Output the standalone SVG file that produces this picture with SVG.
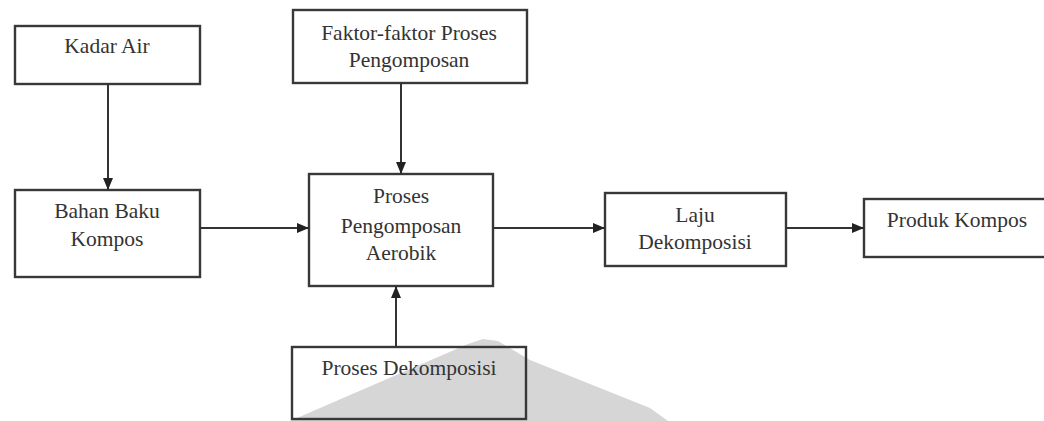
<svg xmlns="http://www.w3.org/2000/svg" width="1044" height="421" viewBox="0 0 1044 421">
<style>
.box{fill:none;stroke:#383838;stroke-width:2.4}
.t{font-family:'Liberation Serif','Times New Roman','DejaVu Serif',serif;font-size:21.5px;fill:#333;text-anchor:middle}
.c{stroke:#333;stroke-width:2;fill:none}
</style>
<defs>
<marker id="ah" viewBox="0 0 12 10" refX="12" refY="5" markerWidth="12" markerHeight="10" markerUnits="userSpaceOnUse" orient="auto">
<path d="M0,0 L12,5 L0,10 Z" fill="#222"/>
</marker>
</defs>
<rect width="1044" height="421" fill="#fff"/>
<path d="M290,421 L468,344 L483,339 L498,341 L530,360 L650,408 L668,421 Z" fill="#d6d6d6"/>
<g id="kadar-air"><rect class="box" x="15" y="26" width="185" height="58"/><text class="t" font-family="Liberation Serif, serif" x="107" y="53">Kadar Air</text></g>
<g id="faktor"><rect class="box" x="293" y="10" width="234" height="73"/><text class="t" font-family="Liberation Serif, serif" x="409" y="40">Faktor-faktor Proses</text><text class="t" font-family="Liberation Serif, serif" x="409" y="67">Pengomposan</text></g>
<g id="bahan-baku"><rect class="box" x="15" y="190" width="185" height="87"/><text class="t" font-family="Liberation Serif, serif" x="107" y="218">Bahan Baku</text><text class="t" font-family="Liberation Serif, serif" x="107" y="246">Kompos</text></g>
<g id="proses-aerobik"><rect class="box" x="309" y="174" width="184" height="112"/><text class="t" font-family="Liberation Serif, serif" x="401" y="203">Proses</text><text class="t" font-family="Liberation Serif, serif" x="401" y="233">Pengomposan</text><text class="t" font-family="Liberation Serif, serif" x="401" y="260">Aerobik</text></g>
<g id="laju"><rect class="box" x="605" y="193" width="181" height="73"/><text class="t" font-family="Liberation Serif, serif" x="695" y="222">Laju</text><text class="t" font-family="Liberation Serif, serif" x="695" y="249">Dekomposisi</text></g>
<g id="produk"><rect class="box" x="864" y="199" width="184" height="58"/><text class="t" font-family="Liberation Serif, serif" x="957" y="227">Produk Kompos</text></g>
<g id="dekomposisi"><rect class="box" x="292" y="347" width="234" height="72"/><text class="t" font-family="Liberation Serif, serif" x="409" y="375">Proses Dekomposisi</text></g>
<g id="connectors">
<line class="c" x1="108" y1="84" x2="108" y2="190" marker-end="url(#ah)"/>
<line class="c" x1="401" y1="83" x2="401" y2="174" marker-end="url(#ah)"/>
<line class="c" x1="200" y1="228" x2="309" y2="228" marker-end="url(#ah)"/>
<line class="c" x1="493" y1="228" x2="605" y2="228" marker-end="url(#ah)"/>
<line class="c" x1="786" y1="228" x2="864" y2="228" marker-end="url(#ah)"/>
<line class="c" x1="396" y1="347" x2="396" y2="286" marker-end="url(#ah)"/>
</g>
</svg>
